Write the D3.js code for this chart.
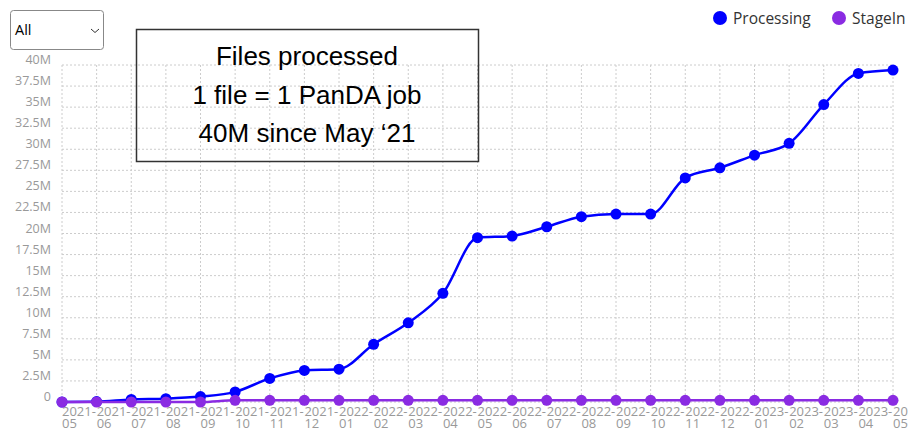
<!DOCTYPE html>
<html><head><meta charset="utf-8">
<script src="https://cdn.jsdelivr.net/npm/d3@7"></script>
<style>
body{margin:0;background:#fff;}
svg{display:block;}
</style></head>
<body>
<svg id="chart" width="908" height="430"></svg>
<script>
const months = ["2021-05","2021-06","2021-07","2021-08","2021-09","2021-10","2021-11","2021-12",
"2022-01","2022-02","2022-03","2022-04","2022-05","2022-06","2022-07","2022-08","2022-09","2022-10","2022-11","2022-12",
"2023-01","2023-02","2023-03","2023-04","2023-05"];
const processing = [0.0,0.05,0.3,0.4,0.65,1.2,2.8,3.75,3.9,6.85,9.4,12.9,19.5,19.7,20.8,22.0,22.3,22.3,26.6,27.8,29.3,30.7,35.3,39.0,39.4].map(v=>v*1e6);
const stagein = [0,0,0,0,0,0.2,0.2,0.2,0.2,0.2,0.2,0.2,0.2,0.2,0.2,0.2,0.2,0.2,0.2,0.2,0.2,0.2,0.2,0.2,0.2].map(v=>v*1e6);
const yTicks = [0,2.5e6,5e6,7.5e6,10e6,12.5e6,15e6,17.5e6,20e6,22.5e6,25e6,27.5e6,30e6,32.5e6,35e6,37.5e6,40e6];
const yTickLabels = ["0","2.5M","5M","7.5M","10M","12.5M","15M","17.5M","20M","22.5M","25M","27.5M","30M","32.5M","35M","37.5M","40M"];
const seriesNames = ["Processing","StageIn"];
const seriesColors = ["#0000ff","#8a2be2"];
const boxLines = ["Files processed","1 file = 1 PanDA job","40M since May \u201821"];

const svg = d3.select("#chart");
const x = d3.scalePoint().domain(months).range([62,893]);
const y = d3.scaleLinear().domain([0,40e6]).range([402,65]);
const labelFont = "'Open Sans', Lato, sans-serif";

// grid
const g = svg.append("g");
g.selectAll("line.h").data(yTicks).join("line")
 .attr("x1",62).attr("x2",893).attr("y1",d=>y(d)).attr("y2",d=>y(d))
 .attr("stroke","#cccccc").attr("stroke-width",1).attr("stroke-dasharray","2,2");
g.selectAll("line.v").data(months).join("line")
 .attr("x1",d=>x(d)).attr("x2",d=>x(d)).attr("y1",65).attr("y2",406)
 .attr("stroke","#cccccc").attr("stroke-width",1).attr("stroke-dasharray","2,2");

// y labels
svg.append("g").selectAll("text").data(yTicks).join("text")
 .attr("x",51).attr("y",d=>y(d)-1).attr("text-anchor","end")
 .attr("font-family",labelFont).attr("font-size",12.5).attr("fill","#999")
 .text((d,i)=>yTickLabels[i]);

// x labels
const xl = svg.append("g").selectAll("text").data(months).join("text")
 .attr("font-family",labelFont).attr("font-size",13).attr("fill","#999")
 .attr("text-anchor","start");
xl.append("tspan").attr("x",d=>x(d)).attr("y",416).text(d=>d.split("-")[0]+"-");
xl.append("tspan").attr("x",d=>x(d)).attr("y",428).text(d=>d.split("-")[1]);

// lines
const line = d3.line().x((d,i)=>x(months[i])).y(d=>y(d)).curve(d3.curveMonotoneX);
[processing, stagein].forEach((vals,k)=>{
  svg.append("path").datum(vals).attr("d",line).attr("fill","none")
   .attr("stroke",seriesColors[k]).attr("stroke-width",2.5);
  svg.append("g").selectAll("circle").data(vals).join("circle")
   .attr("cx",(d,i)=>x(months[i])).attr("cy",d=>y(d)).attr("r",5.5)
   .attr("fill",seriesColors[k]);
});

// annotation box
svg.append("rect").attr("x",136.5).attr("y",29.5).attr("width",342).attr("height",132)
 .attr("fill","none").attr("stroke","#333").attr("stroke-width",1.5);
svg.append("g").selectAll("text").data(boxLines).join("text")
 .attr("x",307).attr("y",(d,i)=>65+i*38.5).attr("text-anchor","middle")
 .attr("font-family","'Liberation Sans', Arial, sans-serif").attr("font-size",26).attr("fill","#000")
 .text(d=>d);

// dropdown
svg.append("rect").attr("x",10.5).attr("y",10.5).attr("width",93).attr("height",39).attr("rx",3)
 .attr("fill","#fff").attr("stroke","#888").attr("stroke-width",1);
svg.append("text").attr("x",15).attr("y",35).attr("font-family",labelFont).attr("font-size",14.5)
 .attr("fill","#000").text("All");
svg.append("path").attr("d","M91,29 L95,32.5 L99,29").attr("fill","none").attr("stroke","#333").attr("stroke-width",1);

// legend
const legX = [720,839];
seriesNames.forEach((n,k)=>{
  svg.append("circle").attr("cx",legX[k]).attr("cy",18).attr("r",7).attr("fill",seriesColors[k]);
  svg.append("text").attr("x",legX[k]+13).attr("y",23.5).attr("font-family",labelFont)
   .attr("font-size",15.5).attr("fill","#333").text(n);
});
</script>
</body></html>
